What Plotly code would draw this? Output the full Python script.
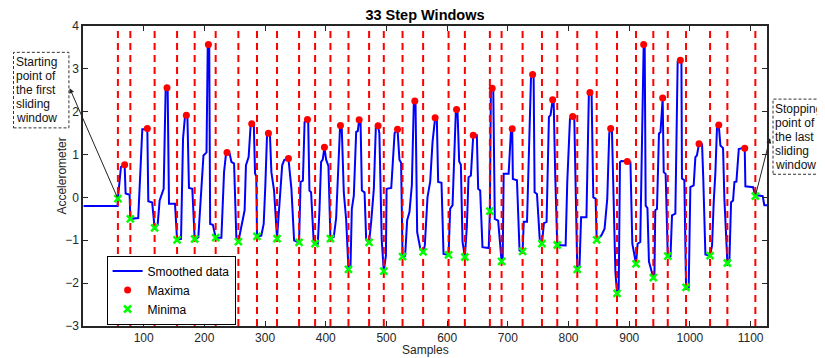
import plotly.graph_objects as go

# ---------------- data ----------------
smooth_x = [1, 57, 57.5, 59.2, 62.5, 66, 68.6, 70.2, 76.8, 78, 91, 97.7, 104, 106, 107.6, 114, 118, 123, 126.3, 132.9,
            136.2, 138.4, 139.5, 141.7, 151.6, 155, 161.5, 164.8, 168.1, 170.3, 172, 174.6, 180.1, 184, 190, 198.5,
            203.5, 205.5, 206.6, 208, 209.5, 214, 218.6, 228, 232.4, 235.5, 237.3, 241.7, 244.5, 248.9, 252.7, 256,
            261.9, 266.3, 268.5, 272.9, 276.2, 278, 281.5, 283.5, 285.5, 286.7, 293.8, 297.7, 300.4, 303.2, 305.5,
            308, 310.4, 314.8, 319.7, 324.4, 328.2, 331.5, 336, 338.5, 343.4, 347.8, 352, 356, 358.5, 362.3, 365.1,
            369.8, 371, 373.1, 375.8, 380.2, 382.4, 386.8, 389.6, 392.3, 395, 397.8, 400.6, 404.4, 407.7, 413.2,
            417.1, 420.9, 423.6, 424.2, 426.4, 429.7, 433.6, 437.4, 440.7, 442.9, 446.2, 450.1, 452.8, 455, 457.3,
            459.5, 463.9, 466.6, 471.4, 474.8, 479.2, 482.5, 486.2, 488.3, 492.2, 495.6, 499.1, 500.2, 507.9, 513.4,
            518.2, 521.4, 524.1, 526.5, 530.8, 534.1, 537.9, 541.8, 545.1, 546.7, 547.9, 550.6, 556.1, 560.4, 563.2,
            567.6, 572, 575.9, 580.2, 583, 585.2, 590.7, 594, 602.3, 605, 608.9, 611.6, 614.3, 615.5, 617.1, 619.8,
            622.6, 625.3, 629.2, 632.5, 635.2, 639.1, 641.8, 643, 648.9, 651.1, 654.4, 658.2, 668.5, 670.4, 672,
            674.2, 676, 678.5, 684, 688.4, 689.7, 691.5, 693.1, 701.3, 705.2, 707.2, 708.3, 715, 719.3, 724.3, 726.2,
            731.6, 734.4, 738.1, 740.8, 742.5, 744.1, 748, 752.8, 756.2, 759.4, 763.8, 767.7, 770.4, 773.8, 775.5,
            778.1, 780.4, 781.4, 795.2, 797.9, 802.4, 806.8, 809.5, 812.2, 814.4, 818, 820.7, 829.5, 833.5, 835.3,
            838, 840.8, 844.6, 846.4, 853.9, 859.4, 863.8, 867.1, 869.4, 871.5, 874, 877.2, 879.9, 882.6, 884.8, 887,
            896.8, 899.7, 902, 905.1, 911.2, 913.8, 918.2, 920.4, 923.8, 925.5, 927.1, 930, 932.5, 939.7, 941.5,
            942.9, 945.7, 949, 951.5, 955.1, 956.8, 960, 963.5, 968, 970.5, 976, 979.8, 984.2, 986, 986.9, 990.8,
            993.6, 998, 1000.7, 1006.2, 1009, 1011.5, 1015, 1020, 1022, 1025.5, 1033.2, 1036.5, 1039.2, 1042, 1044.7,
            1047.5, 1050.2, 1054.6, 1056.8, 1061.7, 1065, 1067.8, 1071.1, 1073.3, 1076.6, 1080.5, 1085.9, 1090.3,
            1091.4, 1104.1, 1107.8, 1111.6, 1119.9, 1122.6, 1127]
smooth_y = [-0.20, -0.20, -0.03, 0.24, 0.71, 0.74, 0.76, 0.09, 0.06, -0.50, -0.48, 1.59, 1.59, 1.61, -0.09, -0.12,
            -0.71, -0.64, -0.07, 0.20, 2.54, 2.56, 2.5, -0.15, -0.15, -0.99, -0.97, 1.37, 1.90, 1.92, 1.9, 0.22, 0.20,
            -0.97, -0.93, 0.98, 1.05, 3.5, 3.57, 3.5, -0.62, -0.64, -0.94, -0.94, 0.59, 1.0, 1.05, 1.02, 0.83, 0.79,
            -0.96, -1.03, -0.58, -0.30, 0.75, 0.94, 1.68, 1.72, 1.68, 0.56, 0.5, -0.91, -0.89, -0.62, 0.27, 1.45, 1.50,
            1.47, 0.59, 0.16, -0.95, 0.12, 0.75, 0.87, 0.9, 0.91, 0.2, -1.0, -1.03, -1.05, 0.36, 0.39, 1.76, 1.82, 1.8,
            0.16, 0.12, -1.06, -1.08, -1.08, -0.30, 0.83, 0.88, 1.17, 0.88, 0.73, -0.96, -0.92, -0.48, 0.97, 1.67,
            1.68, 1.6, 0.12, -0.52, -1.68, -1.64, -0.27, 0.04, 1.53, 1.55, 1.81, 1.78, 0.16, 0.12, -0.99, -1.05, -0.57,
            0.2, 1.64, 1.67, 1.5, -0.99, -1.72, -1.36, 0.2, 0.22, 1.5, 1.59, 0.88, 0.81, -1.38, -1.36, -0.53, -0.34,
            0.28, 2.23, 2.25, 2.19, -0.81, -1.22, -1.27, -1.12, 0.0, 0.36, 1.29, 1.86, 1.83, 0.36, 0.34, -1.32, -1.34,
            -0.26, -0.18, 1.06, 2.0, 2.05, 2.0, 0.84, 0.76, -1.03, -1.39, -0.66, 0.47, 0.51, 1.45, 1.45, 1.45, 0.2,
            0.16, -1.16, -1.18, -0.32, 2.5, 2.55, 2.5, -0.5, -0.54, -1.47, -1.49, -1.45, 0.55, 0.55, 1.58, 1.60, 0.43,
            0.4, -1.24, -1.26, -0.57, -0.57, 0.88, 2.78, 2.87, 2.8, 0.12, 0.08, -1.04, -1.08, -0.6, -0.57, 1.88, 1.92,
            2.28, 2.25, 0.5, -1.08, -1.11, -1.12, 0.36, 1.84, 1.89, 1.84, 0.2, -1.68, -1.63, -0.46, -0.46, 2.42, 2.45,
            2.4, 0.0, -0.03, -0.99, -0.89, -0.73, -0.03, 1.5, 1.61, 1.58, -0.19, -1.74, -2.24, -2.2, 0.82, 0.85, 0.84,
            0.85, 0.82, -1.08, -1.55, -1.08, -1.04, 0.5, 3.57, 3.5, -0.19, -0.25, -1.5, -1.87, -1.85, -0.3, -0.27,
            1.49, 1.52, 2.32, 0.59, 0.55, -1.37, -1.37, -0.42, -0.38, 3.17, 3.2, 3.17, 0.44, 0.4, -2.1, -2.1, 0.24,
            0.28, 0.94, 0.98, 1.25, 1.24, 0.44, -1.33, -1.36, -1.12, -0.11, 0.59, 1.68, 1.69, 1.21, 1.15, -0.03, -1.53,
            -1.5, -0.11, -0.07, 0.36, 0.37, 1.13, 1.15, 1.15, 0.26, 0.24, 0.03, 0.05, 0.03, -0.18, -0.18]

maxima_x = [68.6, 106, 138.4, 170.3, 206.6, 237.3, 278, 305.5, 338.5, 369.8, 397.8, 424.2, 455, 486.2, 518.2,
            546.7, 580.2, 615.5, 643, 674.2, 707.2, 740.8, 773.8, 806.8, 835.3, 869.4, 896.8, 923.8, 955.1,
            984.2, 1015, 1047.5, 1090.3]
maxima_y = [0.76, 1.61, 2.56, 1.92, 3.57, 1.05, 1.72, 1.50, 0.91, 1.82, 1.17, 1.68, 1.81, 1.67, 1.59, 2.25,
            1.86, 2.05, 1.45, 2.55, 1.60, 2.87, 2.28, 1.89, 2.45, 1.61, 0.84, 3.57, 2.32, 3.20, 1.25, 1.69, 1.15]

minima_x = [57.5, 78, 118, 155, 184, 218.6, 256, 286.7, 319.7, 356, 382.4, 407.7, 437.4, 471.4, 495.6, 526.5,
            560.4, 602.3, 629.2, 670.4, 689.7, 724.3, 756.2, 781.4, 814.4, 846.4, 879.9, 911.2, 939.7, 963.5,
            993.6, 1033.2, 1061.7, 1107.8]
minima_y = [-0.03, -0.50, -0.71, -0.99, -0.97, -0.94, -1.03, -0.91, -0.96, -1.05, -1.08, -0.96, -1.68, -1.05,
            -1.72, -1.38, -1.27, -1.34, -1.39, -0.32, -1.49, -1.26, -1.08, -1.11, -1.68, -0.99, -2.24, -1.55,
            -1.87, -1.37, -2.10, -1.36, -1.53, 0.03]

x_range = [0, 1127]
y_range = [-3, 4]
x_ticks = [100, 200, 300, 400, 500, 600, 700, 800, 900, 1000, 1100]
y_ticks = [-3, -2, -1, 0, 1, 2, 3, 4]

start_text = ["Starting", "point of", "the first", "sliding", "window"]
stop_text = ["Stopping", "point of", "the last", "sliding", "window"]

FONT = "Liberation Sans, Arial, Helvetica, sans-serif"
AX = "#262626"

fig = go.Figure()

fig.add_trace(go.Scatter(x=smooth_x, y=smooth_y, mode="lines", name="Smoothed data",
                         line=dict(color="#0000FF", width=2)))

# window boundary lines (dashed red) at each minimum
vx, vy = [], []
for m in minima_x:
    vx += [m, m, None]
    vy += [y_range[0], y_range[1], None]
fig.add_trace(go.Scatter(x=vx, y=vy, mode="lines", showlegend=False, hoverinfo="skip",
                         line=dict(color="#FF0000", width=2, dash="7px,5px")))

fig.add_trace(go.Scatter(x=maxima_x, y=maxima_y, mode="markers", name="Maxima",
                         marker=dict(color="#FF0000", size=7, symbol="circle")))
fig.add_trace(go.Scatter(x=minima_x, y=minima_y, mode="markers", name="Minima",
                         marker=dict(color="#00FF00", size=7, symbol="x-thin",
                                     line=dict(color="#00FF00", width=2.5))))

axis_common = dict(showline=True, linecolor=AX, linewidth=1.5, mirror="ticks", ticks="inside",
                   ticklen=5, tickcolor=AX, showgrid=False, zeroline=False, automargin=False,
                   tickfont=dict(family=FONT, size=12, color=AX))

fig.update_xaxes(range=x_range, tickvals=x_ticks, ticklabelstandoff=0, **axis_common)
fig.update_yaxes(range=y_range, tickvals=y_ticks, ticklabelstandoff=0, **axis_common)

# axis titles
fig.add_annotation(xref="paper", yref="paper", x=0.5, y=-0.08, text="Samples", showarrow=False,
                   xanchor="center", yanchor="middle", font=dict(family=FONT, size=12, color=AX))
fig.add_annotation(xref="paper", yref="paper", x=-0.0313, y=0.5, text="Accelerometer", showarrow=False,
                   textangle=-90, xanchor="center", yanchor="middle", font=dict(family=FONT, size=12, color=AX))

# dashed annotation boxes
box_left = dict(x0=-0.1016, x1=-0.0206, y0=0.6604, y1=0.9122)
box_right = dict(x0=1.0088, x1=1.088, y0=0.5058, y1=0.7563)
for b in (box_left, box_right):
    fig.add_shape(type="rect", xref="paper", yref="paper", **b,
                  line=dict(color="#333333", width=1, dash="3px,2px"), fillcolor="rgba(0,0,0,0)")

line_step = 14 / 299.5
for i, t in enumerate(start_text):
    fig.add_annotation(xref="paper", yref="paper", x=box_left["x0"], y=box_left["y1"] - 0.032 - i * line_step,
                       text=t, showarrow=False, xanchor="left", yanchor="middle",
                       font=dict(family=FONT, size=12, color="#111111"))
for i, t in enumerate(stop_text):
    fig.add_annotation(xref="paper", yref="paper", x=box_right["x0"], y=box_right["y1"] - 0.033 - i * line_step,
                       text=t, showarrow=False, xanchor="left", yanchor="middle",
                       font=dict(family=FONT, size=12, color="#111111"))

# arrows from first/last minimum to the boxes
fig.add_annotation(x=-22, y=2.55, xref="x", yref="y", axref="x", ayref="y",
                   ax=minima_x[0], ay=minima_y[0], text="", showarrow=True,
                   arrowhead=2, arrowsize=1, arrowwidth=1, arrowcolor="#222222")
fig.add_annotation(x=1132, y=1.38, xref="x", yref="y", axref="x", ayref="y",
                   ax=minima_x[-1], ay=minima_y[-1], text="", showarrow=True,
                   arrowhead=2, arrowsize=1, arrowwidth=1, arrowcolor="#222222")

fig.update_layout(
    width=817, height=350,
    margin=dict(l=75, r=58, t=18, b=32),
    paper_bgcolor="white", plot_bgcolor="white",
    title=dict(text="<b>33 Step Windows</b>", x=0.5, xref="paper", y=0.98, yanchor="middle",
               font=dict(family=FONT, size=14.5, color="#000000")),
    legend=dict(x=0.0345, y=0.12, xanchor="left", yanchor="middle", bgcolor="white",
                bordercolor="#000000", borderwidth=1, font=dict(family=FONT, size=12, color="#000000"),
                tracegroupgap=0, itemwidth=30),
    showlegend=True,
)

fig.write_html("out.html")
